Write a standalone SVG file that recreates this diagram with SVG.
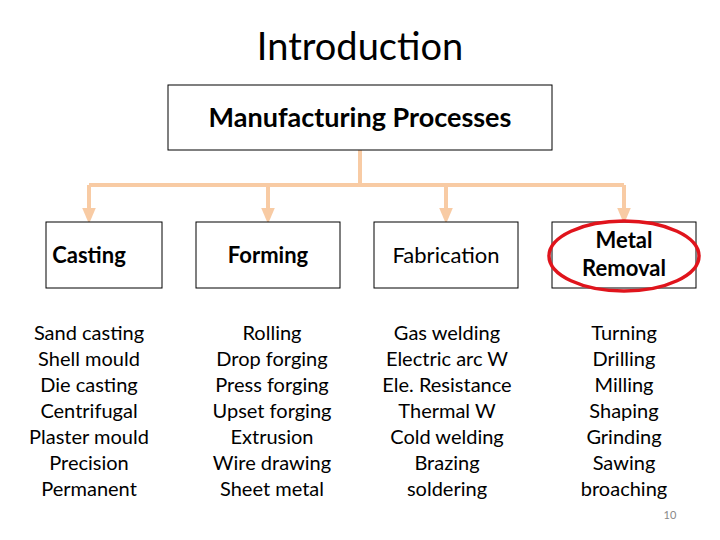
<svg xmlns="http://www.w3.org/2000/svg" width="720" height="540" viewBox="0 0 720 540">
<style>
text{font-family:Lato,"Liberation Sans",sans-serif;fill:#000;text-anchor:middle}
.box{fill:#fff;stroke:#000;stroke-width:1}
.h{font-size:22px;font-weight:bold}
.f{font-size:22px}
.l{font-size:20px}
.c{fill:none;stroke:#f8cba4;stroke-width:4}
</style>
<defs><marker id="a" markerWidth="4" markerHeight="4" refX="2" refY="2" orient="auto"><path d="M0,0.3L4,2L0,3.7Z" fill="#f8cba4"/></marker></defs>
<rect width="720" height="540" fill="#fff"/>
<text x="360" y="60" style="font-size:38px">Introduction</text>
<g id="connectors">
<path class="c" d="M360,150V185M89,185H624"/>
<path class="c" d="M89,185V216" marker-end="url(#a)"/>
<path class="c" d="M268,185V216" marker-end="url(#a)"/>
<path class="c" d="M446,185V216" marker-end="url(#a)"/>
<path class="c" d="M624,185V216" marker-end="url(#a)"/>
</g>
<g id="root"><rect class="box" x="168" y="85" width="384" height="65"/><text class="h" x="360" y="127" style="font-size:27px">Manufacturing Processes</text></g>
<g id="casting"><rect class="box" x="46" y="222" width="116" height="66"/><text class="h" x="89" y="263">Casting</text></g>
<g id="forming"><rect class="box" x="196" y="222" width="144" height="66"/><text class="h" x="268" y="263">Forming</text></g>
<g id="fabrication"><rect class="box" x="374" y="222" width="144" height="66"/><text class="f" x="446" y="263">Fabrication</text></g>
<g id="removal"><rect class="box" x="552" y="222" width="144" height="66"/><text class="h" x="624" y="248">Metal</text><text class="h" x="624" y="276">Removal</text>
<ellipse cx="624" cy="256" rx="75" ry="35" fill="none" stroke="#e0141c" stroke-width="3.5"/></g>
<g id="list1" class="l"><text class="l" x="89" y="340">Sand casting</text><text class="l" x="89" y="366">Shell mould</text><text class="l" x="89" y="392">Die casting</text><text class="l" x="89" y="418">Centrifugal</text><text class="l" x="89" y="444">Plaster mould</text><text class="l" x="89" y="470">Precision</text><text class="l" x="89" y="496">Permanent</text></g>
<g id="list2"><text class="l" x="272" y="340">Rolling</text><text class="l" x="272" y="366">Drop forging</text><text class="l" x="272" y="392">Press forging</text><text class="l" x="272" y="418">Upset forging</text><text class="l" x="272" y="444">Extrusion</text><text class="l" x="272" y="470">Wire drawing</text><text class="l" x="272" y="496">Sheet metal</text></g>
<g id="list3"><text class="l" x="447" y="340">Gas welding</text><text class="l" x="447" y="366">Electric arc W</text><text class="l" x="447" y="392">Ele. Resistance</text><text class="l" x="447" y="418">Thermal W</text><text class="l" x="447" y="444">Cold welding</text><text class="l" x="447" y="470">Brazing</text><text class="l" x="447" y="496">soldering</text></g>
<g id="list4"><text class="l" x="624" y="340">Turning</text><text class="l" x="624" y="366">Drilling</text><text class="l" x="624" y="392">Milling</text><text class="l" x="624" y="418">Shaping</text><text class="l" x="624" y="444">Grinding</text><text class="l" x="624" y="470">Sawing</text><text class="l" x="624" y="496">broaching</text></g>
<text x="670" y="519" style="font-size:11px;fill:#888">10</text>
</svg>
